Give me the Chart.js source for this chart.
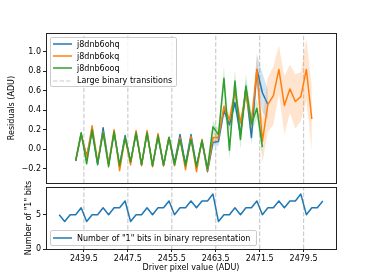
<!DOCTYPE html>
<html>
<head>
<meta charset="utf-8">
<script src="https://cdn.jsdelivr.net/npm/chart.js@4.4.0/dist/chart.umd.min.js"></script>
<style>
html, body { margin: 0; padding: 0; background: #fff; }
#wrap { position: relative; width: 374px; height: 280px; overflow: hidden; font-family: "DejaVu Sans", sans-serif; }
canvas { position: absolute; left: 0; }
#top { top: 0; }
#bottom { top: 180px; }
.legend { position: absolute; background: rgba(255,255,255,0.8); border: 1px solid #ccc; border-radius: 2px;
  font-size: 8px; color: #000; box-sizing: border-box; z-index: 5; }
.legend .row { display: flex; align-items: center; height: 12.2px; white-space: nowrap; }
.legend svg { margin: 0 5px 0 2px; flex: none; }
</style>
</head>
<body>
<div id="wrap">
  <canvas id="top" width="374" height="190" style="width:374px;height:190px"></canvas>
  <canvas id="bottom" width="374" height="100" style="width:374px;height:100px"></canvas>
  <div class="legend" id="legTop" style="left:50px;top:37px;width:127px;height:50px;"></div>
  <div class="legend" id="legBottom" style="left:50px;top:230px;width:207px;height:16px;"></div>
</div>
<script>
// driver pixel values (x) and number of "1" bits
const pixelValues = [2435, 2436, 2437, 2438, 2439, 2440, 2441, 2442, 2443, 2444, 2445, 2446, 2447,
  2448, 2449, 2450, 2451, 2452, 2453, 2454, 2455, 2456, 2457, 2458, 2459, 2460, 2461, 2462, 2463,
  2464, 2465, 2466, 2467, 2468, 2469, 2470, 2471, 2472, 2473, 2474, 2475, 2476, 2477, 2478, 2479,
  2480, 2481, 2482, 2483];
const onesBits = [5, 4, 5, 5, 6, 4, 5, 5, 6, 5, 6, 6, 7, 4, 5, 5, 6, 5, 6, 6, 7, 5, 6, 6, 7, 6, 7, 7, 8,
  4, 5, 5, 6, 5, 6, 6, 7, 5, 6, 6, 7, 6, 7, 7, 8, 5, 6, 6, 7];

// residuals, x from 2438
const residualX = [2438, 2439, 2440, 2441, 2442, 2443, 2444, 2445, 2446, 2447, 2448, 2449, 2450,
  2451, 2452, 2453, 2454, 2455, 2456, 2457, 2458, 2459, 2460, 2461, 2462, 2463, 2464, 2465, 2466,
  2467, 2468, 2469, 2470, 2471, 2472, 2473, 2474, 2475, 2476, 2477, 2478, 2479, 2480, 2481];

const seriesNames = ['j8dnb6ohq', 'j8dnb6okq', 'j8dnb6ooq'];

const ohqResid = [-0.12, 0.15, -0.07, 0.18, -0.16, 0.22, -0.15, 0.17, -0.17, 0.14, -0.13, 0.16, -0.16,
  0.16, -0.17, 0.13, -0.17, 0.12, -0.14, 0.15, -0.16, 0.15, -0.18, 0.08, -0.23, 0.07, 0.08, 0.40, 0.25,
  0.48, 0.15, 0.63, 0.12, 0.82, 0.58, 0.46];
const ohqErr = [0.02, 0.02, 0.02, 0.02, 0.02, 0.02, 0.02, 0.02, 0.02, 0.02, 0.02, 0.02, 0.02,
  0.02, 0.02, 0.02, 0.02, 0.02, 0.02, 0.02, 0.02, 0.02, 0.02, 0.03, 0.03, 0.04, 0.05, 0.06, 0.06,
  0.07, 0.07, 0.08, 0.08, 0.16, 0.2, 0.15];

const okqResid = [-0.12, 0.16, -0.09, 0.24, -0.13, 0.18, -0.16, 0.20, -0.22, 0.12, -0.16, 0.19, -0.17,
  0.19, -0.18, 0.16, -0.17, 0.12, -0.17, 0.12, -0.21, 0.13, -0.23, 0.10, -0.22, 0.12, 0.12, 0.44, 0.30,
  0.60, 0.27, 0.57, 0.28, 0.82, 0.08, 0.46, 0.55, 0.82, 0.45, 0.62, 0.49, 0.54, 0.82, 0.31];
const okqErr = [0.02, 0.02, 0.02, 0.02, 0.02, 0.02, 0.02, 0.02, 0.02, 0.02, 0.02, 0.02, 0.02,
  0.02, 0.02, 0.02, 0.02, 0.02, 0.02, 0.02, 0.02, 0.02, 0.02, 0.02, 0.02, 0.04, 0.05, 0.06, 0.07,
  0.08, 0.08, 0.1, 0.1, 0.15, 0.22, 0.28, 0.3, 0.25, 0.3, 0.25, 0.28, 0.25, 0.32, 0.33];

const ooqResid = [-0.12, 0.17, -0.15, 0.20, -0.15, 0.17, -0.18, 0.18, -0.17, 0.12, -0.13, 0.17, -0.16,
  0.17, -0.17, 0.14, -0.16, 0.12, -0.16, 0.10, -0.17, 0.10, -0.18, 0.09, -0.20, 0.23, 0.15, 0.73, -0.01,
  0.70, 0.10, 0.65, 0.26, 0.42, 0.02];
const ooqErr = [0.02, 0.02, 0.02, 0.02, 0.02, 0.02, 0.02, 0.02, 0.02, 0.02, 0.02, 0.02, 0.02,
  0.02, 0.02, 0.02, 0.02, 0.02, 0.02, 0.02, 0.02, 0.02, 0.02, 0.03, 0.04, 0.06, 0.06, 0.12, 0.1,
  0.12, 0.1, 0.12, 0.1, 0.1, 0.1];

const transitions = [2439.5, 2447.5, 2455.5, 2463.5, 2471.5, 2479.5];
const xTicks = [2439.5, 2447.5, 2455.5, 2463.5, 2471.5, 2479.5];
const residualTicks = [-0.2, 0.0, 0.2, 0.4, 0.6, 0.8, 1.0];
const bitTicks = [0, 5];

const colors = ['#1f77b4', '#ff7f0e', '#2ca02c'];
const bandColors = ['rgba(31,119,180,0.2)', 'rgba(255,127,14,0.2)', 'rgba(44,160,44,0.2)'];
const dashColor = '#cccccc';
const font = { family: 'DejaVu Sans', size: 8 };

const X_MIN = 2432.6, X_MAX = 2485.4;
const R_MIN = -0.35, R_MAX = 1.195;
const B_MIN = 0, B_MAX = 9.03;

function pts(xs, ys) {
  return ys.map((y, i) => ({ x: xs[i], y: y }));
}

function transitionLines(lo, hi, order) {
  const d = [];
  transitions.forEach(t => { d.push({ x: t, y: lo }, { x: t, y: hi }, { x: t, y: null }); });
  return { label: 'Large binary transitions', data: d, borderColor: dashColor, borderWidth: 1.2,
    borderDash: [4.5, 2], pointRadius: 0, spanGaps: false, order: order };
}

// box around the plot area, like matplotlib spines
const frame = {
  id: 'frame',
  afterDraw(chart) {
    const { ctx, chartArea: a } = chart;
    ctx.save();
    ctx.strokeStyle = '#222';
    ctx.lineWidth = 1;
    ctx.strokeRect(Math.round(a.left) + 0.5, Math.round(a.top) + 0.5,
      Math.round(a.right - a.left), Math.round(a.bottom - a.top));
    ctx.restore();
  }
};

const tickGrid = { drawOnChartArea: false, drawTicks: true, tickLength: 3, color: '#222' };

// top panel: residuals
const resid = [ohqResid, okqResid, ooqResid];
const errs = [ohqErr, okqErr, ooqErr];
const topSets = [];
resid.forEach((r, k) => {
  const base = (2 - k) * 3;
  topSets.push({ label: seriesNames[k], data: pts(residualX, r), borderColor: colors[k], borderWidth: 1.5,
    pointRadius: 0, tension: 0, borderJoinStyle: 'round', fill: false, order: base + 2 });
  topSets.push({ label: 'lo', data: pts(residualX, r.map((v, i) => v - errs[k][i])), borderWidth: 0,
    pointRadius: 0, fill: false, order: base + 1.5 });
  topSets.push({ label: 'hi', data: pts(residualX, r.map((v, i) => v + errs[k][i])), borderWidth: 0,
    pointRadius: 0, fill: '-1', backgroundColor: bandColors[k], order: base + 1 });
});
topSets.push(transitionLines(R_MIN, R_MAX, 20));

new Chart(document.getElementById('top'), {
  type: 'line',
  data: { datasets: topSets },
  options: {
    responsive: false, animation: false,
    layout: { padding: { left: 0, right: 38, top: 33, bottom: 3 } },
    plugins: { legend: { display: false }, tooltip: { enabled: false } },
    scales: {
      x: { type: 'linear', min: X_MIN, max: X_MAX, display: false },
      y: {
        min: R_MIN, max: R_MAX,
        afterBuildTicks: s => { s.ticks = residualTicks.map(v => ({ value: v })); },
        afterFit: s => { s.width = 46; },
        grid: tickGrid, border: { display: false },
        ticks: { color: '#000', font: font, padding: 2, callback: v => v.toFixed(1).replace('-', '\u2212') },
        title: { display: true, text: 'Residuals (ADU)', color: '#000', font: font, padding: { top: 7, bottom: 0 } }
      }
    }
  },
  plugins: [frame]
});

// bottom panel: number of "1" bits
new Chart(document.getElementById('bottom'), {
  type: 'line',
  data: {
    datasets: [
      { label: 'Number of "1" bits in binary representation', data: pts(pixelValues, onesBits),
        borderColor: colors[0], borderWidth: 1.5, pointRadius: 0, tension: 0, borderJoinStyle: 'round', order: 0 },
      transitionLines(B_MIN, B_MAX, 5)
    ]
  },
  options: {
    responsive: false, animation: false,
    layout: { padding: { left: 0, right: 38, top: 7, bottom: 0 } },
    plugins: { legend: { display: false }, tooltip: { enabled: false } },
    scales: {
      x: {
        type: 'linear', min: X_MIN, max: X_MAX,
        afterBuildTicks: s => { s.ticks = xTicks.map(v => ({ value: v })); },
        afterFit: s => { s.height = 31; },
        grid: tickGrid, border: { display: false },
        ticks: { color: '#000', font: font, padding: 2, maxRotation: 0, autoSkip: false, callback: v => v.toFixed(1) },
        title: { display: true, text: 'Driver pixel value (ADU)', color: '#000', font: font, padding: { top: 0, bottom: 7.5 } }
      },
      y: {
        min: B_MIN, max: B_MAX,
        afterBuildTicks: s => { s.ticks = bitTicks.map(v => ({ value: v })); },
        afterFit: s => { s.width = 46; },
        grid: tickGrid, border: { display: false },
        ticks: { color: '#000', font: font, padding: 2 },
        title: { display: true, text: 'Number of "1" bits', color: '#000', font: font, padding: { top: 24, bottom: 0 } }
      }
    }
  },
  plugins: [frame]
});

// legends drawn as html boxes over the plots
function legendRow(color, dashed, text) {
  const dash = dashed ? ' stroke-dasharray="4.5 2"' : '';
  const w = dashed ? 1.2 : 1.5;
  const row = document.createElement('div');
  row.className = 'row';
  row.innerHTML = '<svg width="19" height="4"><line x1="0" y1="2" x2="19" y2="2" stroke="' + color +
    '" stroke-width="' + w + '"' + dash + '/></svg>';
  const span = document.createElement('span');
  span.textContent = text;
  row.appendChild(span);
  return row;
}
const legTop = document.getElementById('legTop');
seriesNames.forEach((n, k) => legTop.appendChild(legendRow(colors[k], false, n)));
legTop.appendChild(legendRow(dashColor, true, 'Large binary transitions'));
const legBottom = document.getElementById('legBottom');
legBottom.appendChild(legendRow(colors[0], false, 'Number of "1" bits in binary representation'));
legBottom.firstChild.style.height = '14px';
</script>
</body>
</html>
